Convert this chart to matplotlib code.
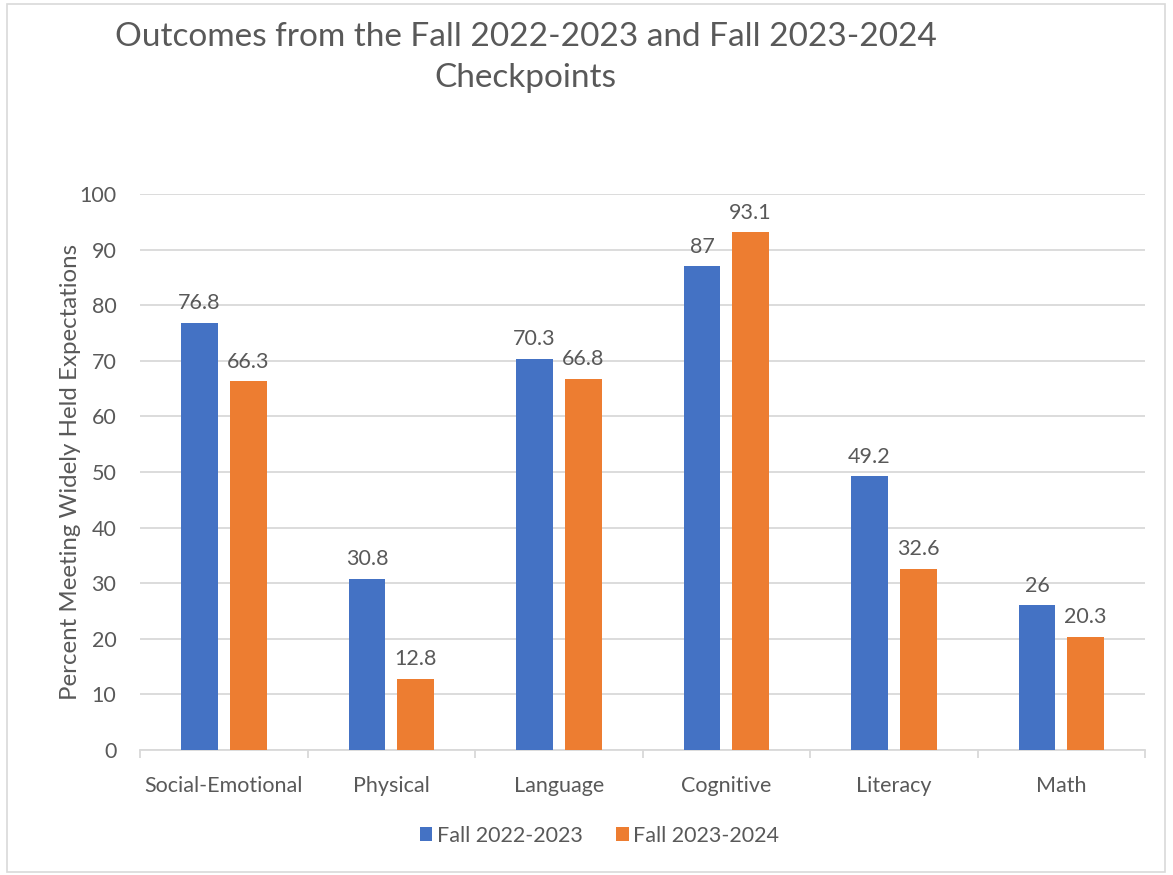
import matplotlib
matplotlib.use("Agg")
import matplotlib.pyplot as plt
import numpy as np
from matplotlib.patches import Rectangle

plt.rcParams['font.family'] = ['Lato', 'DejaVu Sans']

categories = ["Social-Emotional", "Physical", "Language", "Cognitive", "Literacy", "Math"]
fall_2022 = [76.8, 30.8, 70.3, 87, 49.2, 26]
fall_2023 = [66.3, 12.8, 66.8, 93.1, 32.6, 20.3]
labels_2022 = ["76.8", "30.8", "70.3", "87", "49.2", "26"]
labels_2023 = ["66.3", "12.8", "66.8", "93.1", "32.6", "20.3"]
series_names = ["Fall 2022-2023", "Fall 2023-2024"]

blue = "#4472C4"
orange = "#ED7D31"
txt = "#595959"
grid = "#D9D9D9"

fig = plt.figure(figsize=(11.73, 8.75), dpi=100)
ax = fig.add_axes([0.1194, 0.1429, 0.8568, 0.6354])

# light frame round the whole chart
fig.patches.append(Rectangle((0.006, 0.003), 0.987, 0.993, transform=fig.transFigure,
                             fill=False, edgecolor="#D9D9D9", linewidth=1.2))

x = np.arange(len(categories))
w = 0.22
off = 0.145
b1 = ax.bar(x - off, fall_2022, w, color=blue, label=series_names[0], zorder=3)
b2 = ax.bar(x + off, fall_2023, w, color=orange, label=series_names[1], zorder=3)

for bars, labs in ((b1, labels_2022), (b2, labels_2023)):
    for r, lab in zip(bars, labs):
        ax.annotate(lab, (r.get_x() + r.get_width() / 2, r.get_height()),
                    xytext=(0, 7), textcoords="offset points", ha="center", va="bottom",
                    fontsize=15.5, color=txt)

ax.set_xlim(-0.5, len(categories) - 0.5)
ax.set_ylim(0, 100)
ax.set_yticks(range(0, 101, 10))
ax.yaxis.grid(True, color=grid, linewidth=1.3, zorder=0)
ax.set_axisbelow(True)

for s in ("top", "right", "left"):
    ax.spines[s].set_visible(False)
ax.spines["bottom"].set_color(grid)
ax.spines["bottom"].set_linewidth(1.3)

ax.set_xticks(x)
ax.set_xticklabels(categories)
ax.tick_params(axis="x", length=0, pad=19, labelsize=15.5, labelcolor=txt)
ax.set_xticks(np.arange(-0.5, len(categories)), minor=True)
ax.tick_params(axis="x", which="minor", length=6, color=grid, width=1.3)
ax.tick_params(axis="y", length=0, pad=17, labelsize=15.5, labelcolor=txt)

ax.set_ylabel("Percent Meeting Widely Held Expectations", fontsize=17.3, color=txt)
ax.yaxis.label.set_verticalalignment("center")
ax.yaxis.set_label_coords(-0.0697, 0.5)

fig.text(0.448, 0.958, "Outcomes from the Fall 2022-2023 and Fall 2023-2024",
         ha="center", va="center", fontsize=24, color=txt)
fig.text(0.448, 0.911, "Checkpoints", ha="center", va="center", fontsize=24, color=txt)

fig.legend(loc="center", bbox_to_anchor=(0.511, 0.045), ncol=2, frameon=False,
           fontsize=15.5, labelcolor=txt, handlelength=0.6, handleheight=0.6,
           handletextpad=0.2, columnspacing=1.55)

fig.savefig("out.png", dpi=100)
